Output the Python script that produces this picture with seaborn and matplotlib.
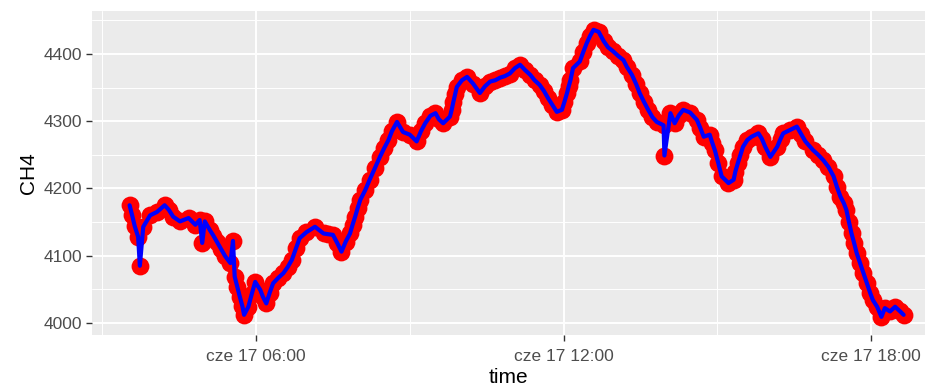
import matplotlib
matplotlib.use("Agg")
import matplotlib.pyplot as plt
import matplotlib.dates as mdates
import matplotlib.ticker as mticker
import pandas as pd
import seaborn as sns

# CH4 readings, 17 June (times)
times = [
    "03:32", "03:35", "03:38", "03:42", "03:44", "03:48", "03:56", "04:04", "04:13", "04:18",
    "04:23", "04:31", "04:41", "04:49", "04:54", "04:57", "05:00", "05:06", "05:10", "05:14",
    "05:19", "05:24", "05:30", "05:33", "05:35", "05:38", "05:41", "05:44", "05:46", "05:51",
    "05:55", "05:59", "06:05", "06:08", "06:12", "06:16", "06:20", "06:26", "06:32", "06:37",
    "06:42", "06:47", "06:51", "06:59", "07:09", "07:19", "07:24", "07:30", "07:35", "07:40",
    "07:45", "07:50", "07:53", "07:56", "07:59", "08:02", "08:08", "08:13", "08:19", "08:25",
    "08:30", "08:35", "08:39", "08:45", "08:52", "09:00", "09:08", "09:13", "09:18", "09:24",
    "09:30", "09:34", "09:39", "09:47", "09:49", "09:51", "09:53", "09:55", "10:01", "10:07",
    "10:14", "10:22", "10:28", "10:34", "10:40", "10:46", "10:51", "10:57", "11:03", "11:09",
    "11:15", "11:21", "11:26", "11:32", "11:37", "11:42", "11:47", "11:52", "11:58", "12:01",
    "12:04", "12:06", "12:08", "12:11", "12:19", "12:23", "12:27", "12:31", "12:35", "12:41",
    "12:47", "12:52", "12:58", "13:04", "13:10", "13:14", "13:20", "13:25", "13:29", "13:34",
    "13:39", "13:44", "13:49", "13:57", "13:58", "14:05", "14:10", "14:15", "14:20", "14:28",
    "14:36", "14:40", "14:44", "14:51", "14:54", "14:57", "15:01", "15:05", "15:13", "15:19",
    "15:21", "15:24", "15:27", "15:30", "15:35", "15:40", "15:48", "15:52", "15:56", "16:02",
    "16:10", "16:14", "16:17", "16:25", "16:33", "16:38", "16:43", "16:52", "16:58", "17:04",
    "17:10", "17:16", "17:20", "17:24", "17:28", "17:31", "17:34", "17:37", "17:40", "17:43",
    "17:47", "17:51", "17:55", "17:59", "18:02", "18:07", "18:12", "18:16", "18:22", "18:28",
    "18:34", "18:38",
]
ch4 = [
    4175, 4160, 4144, 4128, 4085, 4143, 4160, 4165, 4175, 4168,
    4158, 4151, 4156, 4146, 4153, 4119, 4151, 4138, 4130, 4121,
    4110, 4099, 4089, 4122, 4069, 4054, 4039, 4025, 4012, 4024,
    4043, 4061, 4049, 4039, 4029, 4045, 4059, 4067, 4074, 4083,
    4094, 4112, 4126, 4135, 4143, 4133, 4132, 4131, 4119, 4106,
    4121, 4133, 4146, 4158, 4171, 4183, 4198, 4213, 4230, 4247,
    4260, 4272, 4285, 4299, 4284, 4280, 4270, 4285, 4297, 4308,
    4312, 4303, 4297, 4307, 4317, 4329, 4340, 4351, 4361, 4366,
    4356, 4342, 4352, 4359, 4361, 4365, 4367, 4371, 4379, 4384,
    4376, 4369, 4361, 4354, 4345, 4334, 4324, 4314, 4317, 4329,
    4342, 4352, 4361, 4379, 4389, 4403, 4416, 4427, 4436, 4433,
    4419, 4410, 4404, 4397, 4391, 4381, 4369, 4355, 4342, 4329,
    4317, 4306, 4299, 4294, 4249, 4312, 4297, 4309, 4317, 4313,
    4302, 4290, 4277, 4280, 4268, 4257, 4238, 4218, 4208, 4213,
    4225, 4238, 4250, 4262, 4272, 4277, 4282, 4274, 4262, 4247,
    4262, 4274, 4282, 4287, 4292, 4281, 4270, 4257, 4250, 4242,
    4232, 4218, 4202, 4188, 4178, 4168, 4150, 4133, 4119, 4104,
    4089, 4074, 4059, 4044, 4034, 4024, 4009, 4022, 4017, 4024,
    4017, 4012,
]
day = "2021-06-17"

df = pd.DataFrame({"time": pd.to_datetime([f"{day} {t}" for t in times]), "CH4": ch4})

sns.set_theme(style="darkgrid")
plt.rcParams["font.family"] = ["Liberation Sans", "DejaVu Sans"]

fig = plt.figure(figsize=(9.25, 3.89), dpi=100)
ax = fig.add_axes([92 / 925, 54 / 389, 833 / 925, 324 / 389])
ax.set_facecolor("#EBEBEB")

sns.scatterplot(data=df, x="time", y="CH4", ax=ax, color="#FF0000", s=165,
                linewidth=0, zorder=3)
sns.lineplot(data=df, x="time", y="CH4", ax=ax, color="#0000FF", linewidth=3.0,
             zorder=4)

ax.set_xlim(pd.Timestamp(f"{day} 02:48"), pd.Timestamp(f"{day} 19:03"))
ax.set_ylim(3982, 4464)

ax.xaxis.set_major_locator(mdates.HourLocator(byhour=[6, 12, 18]))
ax.xaxis.set_minor_locator(mdates.HourLocator(byhour=[3, 9, 15]))
ax.xaxis.set_major_formatter(
    mticker.FuncFormatter(lambda x, pos: "cze " + mdates.num2date(x).strftime("%d %H:%M")))
ax.yaxis.set_major_locator(mticker.MultipleLocator(100))
ax.yaxis.set_minor_locator(mticker.MultipleLocator(50))

ax.grid(which="major", color="white", linewidth=1.4)
ax.grid(which="minor", color="white", linewidth=0.7)
for s in ax.spines.values():
    s.set_visible(False)

ax.tick_params(axis="both", which="major", length=4, width=1, color="#333333",
               labelsize=12.5, labelcolor="#4D4D4D", bottom=True, left=True)
ax.tick_params(axis="x", which="major", pad=6)
ax.tick_params(axis="y", which="major", pad=3)
ax.tick_params(axis="both", which="minor", length=0)

ax.set_xlabel("time", fontsize=15, color="black", labelpad=3)
ax.set_ylabel("CH4", fontsize=15, color="black", labelpad=4)

fig.savefig("out.png", dpi=100)
